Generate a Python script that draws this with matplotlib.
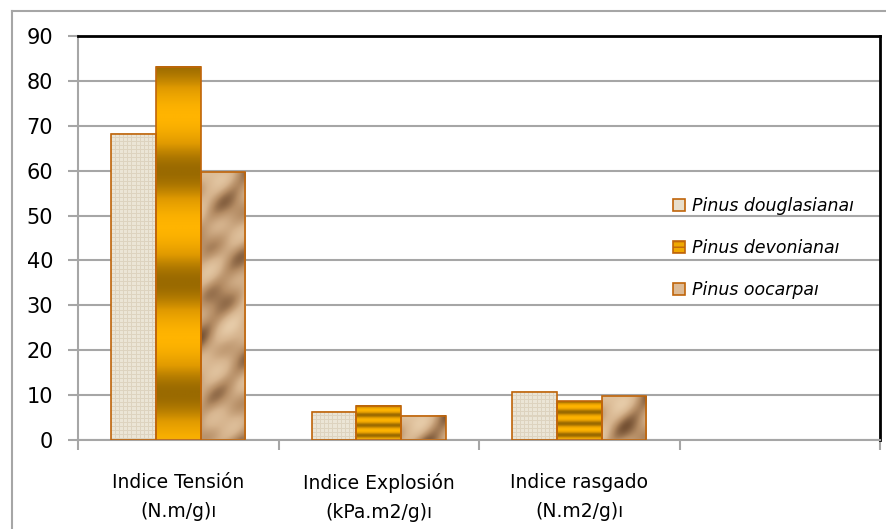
import numpy as np
import matplotlib
matplotlib.use('Agg')
from matplotlib import pyplot as plt
from matplotlib.patches import Patch
from matplotlib.lines import Line2D
from matplotlib.colors import LinearSegmentedColormap

# datos
categorias = ['Indice Tensión\n(N.m/g)ı', 'Indice Explosión\n(kPa.m2/g)ı', 'Indice rasgado\n(N.m2/g)ı', '']
series = ['Pinus douglasianaı', 'Pinus devonianaı', 'Pinus oocarpaı']
douglasiana = [68.2, 6.3, 10.7]
devoniana = [83.1, 7.6, 8.6]
oocarpa = [59.7, 5.4, 9.8]
valores = [douglasiana, devoniana, oocarpa]
yticks = list(range(0, 100, 10))

W, H = 886, 529
fig = plt.figure(figsize=(W / 100, H / 100), dpi=100)
ax = fig.add_axes([78 / W, (H - 440) / H, (880 - 78) / W, (440 - 36) / H])

# marco exterior del gráfico
fig.add_artist(Line2D([12 / W, 12 / W], [0, 1 - 11 / H], color='#A6A6A6', lw=1.5, transform=fig.transFigure))
fig.add_artist(Line2D([12 / W, 1], [1 - 11 / H, 1 - 11 / H], color='#A6A6A6', lw=1.5, transform=fig.transFigure))

ax.set_xlim(0, 4)
ax.set_ylim(0, 90)
ax.set_yticks(yticks)
ax.yaxis.grid(True, color='#A6A6A6', lw=1.5)
ax.set_axisbelow(True)

edge = '#C0650A'
ancho = 0.222
centros = np.arange(3) + 0.5
desp = [-ancho, 0, ancho]

# texturas
def tex_tela(h, w):
    yy, xx = np.mgrid[0:h, 0:w]
    img = np.full((h, w, 3), [0.925, 0.9, 0.84])
    lin = ((xx % 4) == 0) | ((yy % 4) == 0)
    img[lin] = [0.87, 0.83, 0.75]
    return img

def tex_oro(h, w):
    t = np.linspace(0, 1, h)[:, None] * np.ones((1, w))
    return 0.5 - 0.5 * np.cos(2 * np.pi * 3.36 * (t + 0.025))

def tex_papel(h, w):
    yy, xx = np.mgrid[0:h, 0:w].astype(float)
    v = (np.sin(0.11 * xx + 0.07 * yy) + 0.8 * np.sin(0.05 * xx - 0.13 * yy + 1.3)
         + 0.6 * np.sin(0.19 * xx + 0.17 * yy + 2.1) + 0.5 * np.sin(0.03 * yy + 0.09 * xx))
    return (v - v.min()) / (v.max() - v.min())

cm_oro = LinearSegmentedColormap.from_list('oro', ['#FFB400', '#E09A00', '#9A6A00'])
cm_papel = LinearSegmentedColormap.from_list('papel', ['#765234', '#B48C64', '#D6B48E', '#E6CBA8'])

fig.canvas.draw()
for i, vals in enumerate(valores):
    barras = ax.bar(centros + desp[i], vals, ancho, facecolor='none', edgecolor=edge, lw=1.2, zorder=3)
    for b in barras:
        x0, w, h = b.get_x(), b.get_width(), b.get_height()
        p0 = ax.transData.transform((x0, 0))
        p1 = ax.transData.transform((x0 + w, h))
        pw, ph = max(int(p1[0] - p0[0]), 2), max(int(p1[1] - p0[1]), 2)
        ext = [x0, x0 + w, 0, h]
        if i == 0:
            ax.imshow(tex_tela(ph, pw), extent=ext, aspect='auto', zorder=2, interpolation='nearest')
        elif i == 1:
            ax.imshow(tex_oro(ph, pw), extent=ext, aspect='auto', zorder=2, cmap=cm_oro, origin='lower')
        else:
            ax.imshow(tex_papel(ph, pw), extent=ext, aspect='auto', zorder=2, cmap=cm_papel)
ax.set_xlim(0, 4)
ax.set_ylim(0, 90)

# ejes
for s in ['left', 'bottom']:
    ax.spines[s].set_color('#A6A6A6')
    ax.spines[s].set_linewidth(1.5)
for s in ['top', 'right']:
    ax.spines[s].set_color('black')
    ax.spines[s].set_linewidth(2)

ax.set_xticks([0, 1, 2, 3, 4], minor=True)
ax.set_xticks(np.arange(4) + 0.5)
ax.set_xticklabels(categorias, fontsize=13.5, linespacing=1.65)
ax.tick_params(axis='x', which='major', length=0, pad=24)
ax.tick_params(axis='x', which='minor', length=7, color='#A6A6A6', width=1.5)
ax.tick_params(axis='y', length=7, color='#A6A6A6', width=1.5, labelsize=15, pad=11)

# leyenda
handles = [Patch(facecolor='#E8DFCC', edgecolor=edge, lw=1.2),
           Patch(facecolor='#F0A800', edgecolor=edge, lw=1.2, hatch='---'),
           Patch(facecolor='#DDBB96', edgecolor=edge, lw=1.2)]
leg = ax.legend(handles, series, loc='center left', bbox_to_anchor=(579 / 802, (440 - 248) / 404),
                frameon=False, handlelength=0.7, handleheight=0.7, handletextpad=0.4,
                labelspacing=1.4, prop={'style': 'italic', 'size': 12.5})
leg.set_zorder(5)

fig.savefig('out.png', dpi=100)
